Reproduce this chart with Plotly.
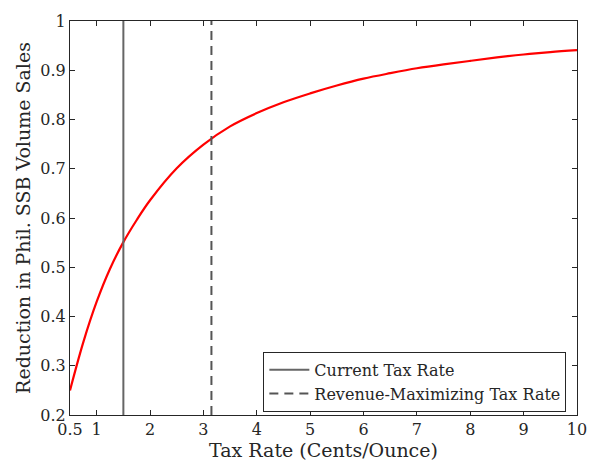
import plotly.graph_objects as go

tax_rate = [0.5, 0.75, 1.0, 1.25, 1.5, 1.75, 2.0, 2.5, 3.0, 3.5, 4.0, 4.5, 5.0, 5.5,
            6.0, 6.5, 7.0, 7.5, 8.0, 8.5, 9.0, 9.5, 10.0]
reduction = [0.25, 0.348, 0.430, 0.497, 0.551, 0.596, 0.636, 0.701, 0.749, 0.786, 0.813,
             0.835, 0.853, 0.869, 0.883, 0.894, 0.904, 0.912, 0.919, 0.926, 0.932, 0.937, 0.941]
current_rate = 1.5
rev_max_rate = 3.15
y_range = [0.2, 1.0]
x_ticks = [0.5, 1, 2, 3, 4, 5, 6, 7, 8, 9, 10]
x_tick_text = ["0.5", "1", "2", "3", "4", "5", "6", "7", "8", "9", "10"]
y_ticks = [0.2, 0.3, 0.4, 0.5, 0.6, 0.7, 0.8, 0.9, 1.0]
y_tick_text = ["0.2", "0.3", "0.4", "0.5", "0.6", "0.7", "0.8", "0.9", "1"]

FONT = "DejaVu Serif"
AX = "#262626"

fig = go.Figure()
fig.add_trace(go.Scatter(x=tax_rate, y=reduction, mode="lines",
                         line=dict(color="#ff0000", width=2.2, shape="spline", smoothing=1.0),
                         showlegend=False))
fig.add_trace(go.Scatter(x=[current_rate, current_rate], y=y_range, mode="lines",
                         line=dict(color="#666666", width=2), name="Current Tax Rate"))
fig.add_trace(go.Scatter(x=[rev_max_rate, rev_max_rate], y=y_range, mode="lines",
                         line=dict(color="#555555", width=2, dash="9px,6px"),
                         name="Revenue-Maximizing Tax Rate"))

fig.update_layout(
    width=599, height=476,
    margin=dict(l=70, r=15, t=12, b=61),
    paper_bgcolor="white", plot_bgcolor="white",
    font=dict(family=FONT, size=16, color=AX),
    legend=dict(x=0.979, y=0.008, xanchor="right", yanchor="bottom",
                bordercolor=AX, borderwidth=1, bgcolor="white",
                font=dict(family=FONT, size=16, color=AX),
                tracegroupgap=0, itemwidth=40),
)
fig.update_xaxes(range=[0.5, 10], tickvals=x_ticks, ticktext=x_tick_text,
                 ticks="inside", ticklen=5, tickcolor=AX, showline=True, linecolor=AX,
                 linewidth=1, mirror="ticks", showgrid=False, zeroline=False,
                 tickfont=dict(size=16),
                 title=dict(text="Tax Rate (Cents/Ounce)", font=dict(size=19), standoff=4))
fig.update_yaxes(range=y_range, tickvals=y_ticks, ticktext=y_tick_text,
                 ticks="inside", ticklen=5, tickcolor=AX, showline=True, linecolor=AX,
                 linewidth=1, mirror="ticks", showgrid=False, zeroline=False,
                 tickfont=dict(size=16),
                 title=dict(text="Reduction in Phil. SSB Volume Sales", font=dict(size=19), standoff=4))

fig.write_html("out.html")
